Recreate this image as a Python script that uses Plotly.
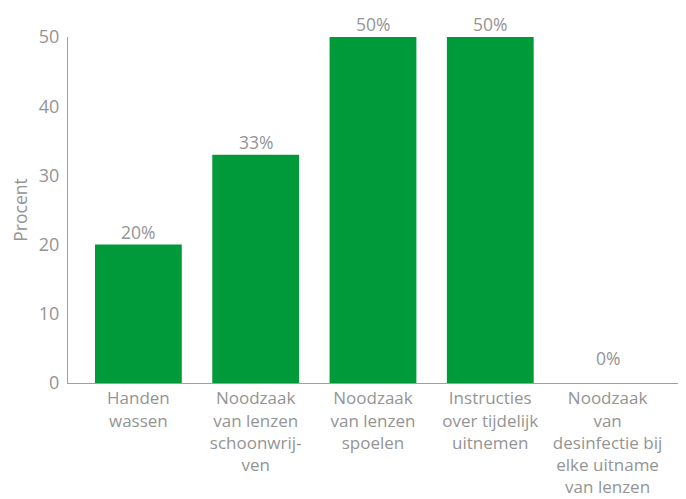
import plotly.graph_objects as go

categories = [
    "Handen<br>wassen",
    "Noodzaak<br>van lenzen<br>schoonwrij-<br>ven",
    "Noodzaak<br>van lenzen<br>spoelen",
    "Instructies<br>over tijdelijk<br>uitnemen",
    "Noodzaak<br>van<br>desinfectie bij<br>elke uitname<br>van lenzen",
]
values = [20, 33, 50, 50, 0]
value_labels = ["20%", "33%", "50%", "50%", "0%"]
y_ticks = [0, 10, 20, 30, 40, 50]

GREY = "#949494"
GREEN = "#009a3b"
FONT = "Open Sans, sans-serif"

fig = go.Figure()
fig.add_trace(go.Bar(
    x=list(range(len(categories))),
    y=values,
    marker=dict(color=GREEN, line=dict(width=0)),
    width=0.74,
    hoverinfo="skip",
))

for i, (v, lab) in enumerate(zip(values, value_labels)):
    fig.add_annotation(
        x=i, y=v, text=lab, showarrow=False,
        yshift=25 if v == 0 else 13,
        font=dict(family=FONT, size=17.5, color=GREY),
    )

fig.update_layout(
    width=686, height=499,
    margin=dict(l=60, r=9, t=29, b=124),
    paper_bgcolor="white", plot_bgcolor="white",
    showlegend=False,
    font=dict(family=FONT, size=17, color=GREY),
    bargap=0.26,
)
fig.update_xaxes(
    tickmode="array",
    tickvals=list(range(len(categories))),
    ticktext=categories,
    range=[-0.6, 4.66],
    automargin=False,
    showline=True, linecolor="#a0a0a0", linewidth=1,
    ticks="", showgrid=False, zeroline=False,
    tickfont=dict(family=FONT, size=17, color=GREY),
)
fig.update_yaxes(
    range=[0, 50],
    tickvals=y_ticks,
    automargin=False,
    showline=True, linecolor="#a0a0a0", linewidth=1,
    ticks="", showgrid=False, zeroline=False,
    ticklabelstandoff=4,
    tickfont=dict(family=FONT, size=18, color=GREY),
    title=dict(text="Procent", font=dict(family=FONT, size=17.5, color=GREY), standoff=14),
)

fig.write_html("out.html")
